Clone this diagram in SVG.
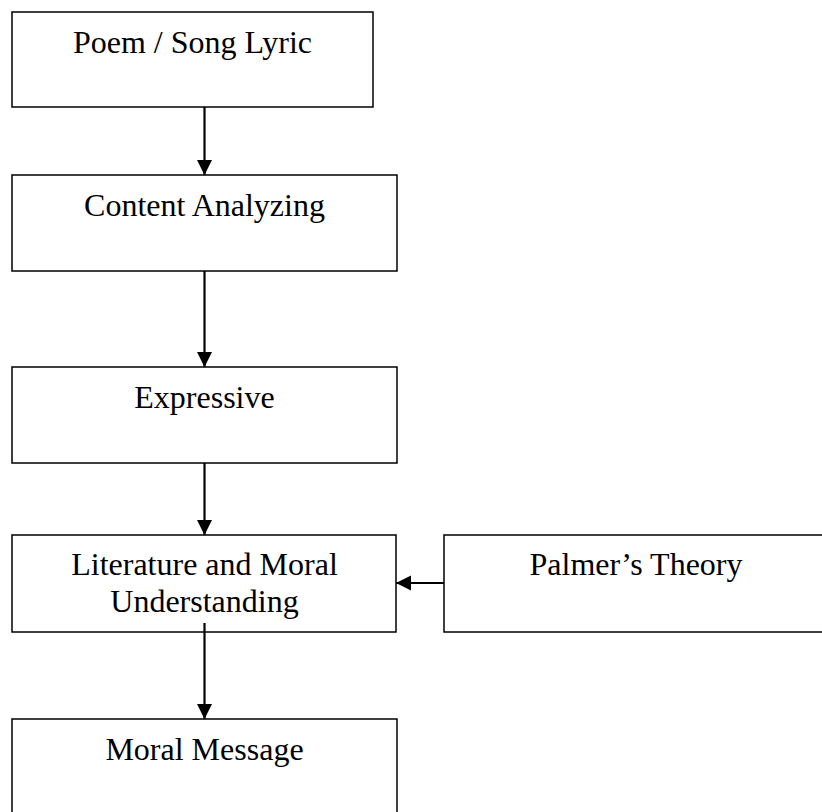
<svg xmlns="http://www.w3.org/2000/svg" width="822" height="812" viewBox="0 0 822 812">
<style>
.box{fill:#fff;stroke:#000;stroke-width:1.5}
.lbl{font-family:"Liberation Serif","Times New Roman",serif;font-size:32px;fill:#000;text-anchor:middle}
.conn{stroke:#000;stroke-width:2.2;fill:none;marker-end:url(#ah)}
</style>
<defs>
<marker id="ah" markerUnits="userSpaceOnUse" markerWidth="16" markerHeight="16" refX="15" refY="7.5" orient="auto">
<path d="M0,0 L15,7.5 L0,15 z" fill="#000"/>
</marker>
</defs>
<rect width="822" height="812" fill="#fff"/>
<g id="n1"><rect class="box" x="12" y="12" width="361" height="95"/><text class="lbl" x="192.5" y="53">Poem / Song Lyric</text></g>
<g id="n2"><rect class="box" x="12" y="175" width="385" height="96"/><text class="lbl" x="204.5" y="216">Content Analyzing</text></g>
<g id="n3"><rect class="box" x="12" y="367" width="385" height="96"/><text class="lbl" x="204.5" y="408">Expressive</text></g>
<g id="n4"><rect class="box" x="12" y="535" width="384" height="97"/><text class="lbl" x="204.5" y="575">Literature and Moral</text><text class="lbl" x="204.5" y="612">Understanding</text></g>
<g id="n5"><rect class="box" x="444" y="535" width="390" height="97"/><text class="lbl" x="636" y="575">Palmer’s Theory</text></g>
<g id="n6"><rect class="box" x="12" y="719" width="385" height="110"/><text class="lbl" x="204.5" y="760">Moral Message</text></g>
<g id="connectors">
<line class="conn" x1="204.5" y1="107" x2="204.5" y2="175"/>
<line class="conn" x1="204.5" y1="271" x2="204.5" y2="367"/>
<line class="conn" x1="204.5" y1="463" x2="204.5" y2="535"/>
<line class="conn" x1="204.5" y1="623" x2="204.5" y2="719"/>
<line class="conn" x1="444" y1="583" x2="396" y2="583"/>
</g>
</svg>
